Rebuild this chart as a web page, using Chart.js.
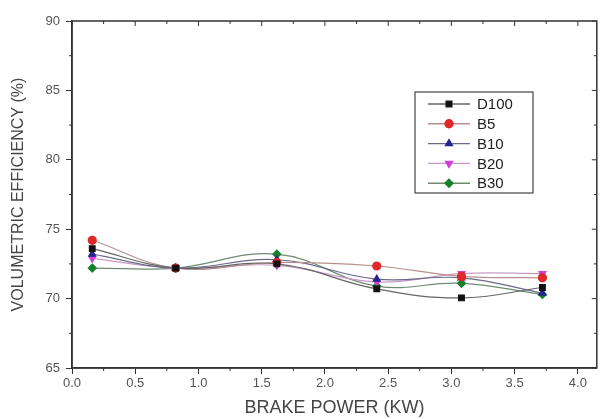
<!DOCTYPE html>
<html>
<head>
<meta charset="utf-8">
<script src="https://cdn.jsdelivr.net/npm/chart.js@4/dist/chart.umd.min.js"></script>
<style>
  html, body { margin: 0; padding: 0; background: #fff; overflow: hidden; }
  #wrap { width: 602px; height: 419px; }
</style>
</head>
<body>
<div id="wrap"><canvas id="chart" width="602" height="419"></canvas></div>
<script>
// ─── Data ────────────────────────────────────────────────────────────────────

const brakePower = [0.16, 0.82, 1.62, 2.41, 3.08, 3.72];
const d100 = [73.6, 72.2, 72.5, 70.7, 70.05, 70.8];
const b5   = [74.2, 72.2, 72.6, 72.35, 71.6, 71.5];
const b10  = [73.2, 72.2, 72.8, 71.4, 71.5, 70.4];
const b20  = [72.9, 72.2, 72.4, 71.2, 71.8, 71.8];
const b30  = [72.2, 72.2, 73.2, 70.9, 71.1, 70.3];

const xTicks = [0, 0.5, 1, 1.5, 2, 2.5, 3, 3.5, 4];
const yTicks = [65, 70, 75, 80, 85, 90];
const xMinor = [0.25, 0.75, 1.25, 1.75, 2.25, 2.75, 3.25, 3.75];
const yMinor = [67.5, 72.5, 77.5, 82.5, 87.5];

const FONT = "'Liberation Sans', Arial, sans-serif";

// ─── Datasets ────────────────────────────────────────────────────────────────

function series(label, values, color, lineColor, pointStyle, rotation = 0) {
  return {
    label,
    data: values.map((v, i) => ({ x: brakePower[i], y: v })),
    borderColor: lineColor,
    borderWidth: 1.2,
    backgroundColor: color,
    pointBackgroundColor: color,
    pointBorderColor: color,
    pointStyle,
    rotation,
    pointRadius: 4,
    tension: 0.4,
  };
}

const datasets = [
  series("D100", d100, "#111111", "#666666", "rect"),
  series("B5", b5, "#e02828", "#b89090", "circle"),
  series("B10", b10, "#25258f", "#6a6a88", "triangle"),
  series("B20", b20, "#d23cd8", "#c89ac8", "triangle", 180),
  series("B30", b30, "#17802a", "#6f8a70", "rectRot"),
];

// ─── Plugins ─────────────────────────────────────────────────────────────────

const frameAndMinor = {
  id: "frameAndMinor",
  afterDraw(chart) {
    const { ctx, chartArea: a, scales } = chart;
    ctx.save();
    ctx.strokeStyle = "#333";
    ctx.lineWidth = 1.5;
    ctx.strokeRect(a.left, a.top, a.right - a.left, a.bottom - a.top);
    ctx.lineWidth = 1;
    ctx.beginPath();
    xMinor.forEach(v => {
      const px = scales.x.getPixelForValue(v);
      ctx.moveTo(px, a.bottom); ctx.lineTo(px, a.bottom + 3);
      ctx.moveTo(px, a.top); ctx.lineTo(px, a.top + 3);
    });
    yMinor.forEach(v => {
      const py = scales.y.getPixelForValue(v);
      ctx.moveTo(a.left, py); ctx.lineTo(a.left - 3, py);
      ctx.moveTo(a.right, py); ctx.lineTo(a.right - 3, py);
    });
    xTicks.forEach(v => {
      const px = scales.x.getPixelForValue(v);
      ctx.moveTo(px, a.top); ctx.lineTo(px, a.top + 5);
    });
    yTicks.forEach(v => {
      const py = scales.y.getPixelForValue(v);
      ctx.moveTo(a.right, py); ctx.lineTo(a.right - 5, py);
    });
    ctx.stroke();
    ctx.restore();
  },
};

const boxLegend = {
  id: "boxLegend",
  afterDraw(chart) {
    const { ctx } = chart;
    const left = 415, top = 92, w = 118, h = 101, row = 19.8;
    ctx.save();
    ctx.strokeStyle = "#444";
    ctx.lineWidth = 1.2;
    ctx.strokeRect(left, top, w, h);
    ctx.font = `15px ${FONT}`;
    ctx.textBaseline = "middle";
    ctx.fillStyle = "#222";
    chart.data.datasets.forEach((ds, i) => {
      const y = top + 12 + i * row;
      ctx.strokeStyle = ds.borderColor;
      ctx.lineWidth = 1.4;
      ctx.beginPath();
      ctx.moveTo(428, y); ctx.lineTo(470, y);
      ctx.stroke();
      ctx.fillStyle = ds.pointBackgroundColor;
      ctx.strokeStyle = ds.pointBorderColor;
      Chart.helpers.drawPoint(ctx, {
        pointStyle: ds.pointStyle, radius: 4, rotation: ds.rotation, borderWidth: 1,
      }, 449, y);
      ctx.fillStyle = "#222";
      ctx.fillText(ds.label, 477, y + 1);
    });
    ctx.restore();
  },
};

// ─── Chart ───────────────────────────────────────────────────────────────────

new Chart(document.getElementById("chart"), {
  type: "line",
  data: { datasets },
  plugins: [frameAndMinor, boxLegend],
  options: {
    responsive: false,
    animation: false,
    layout: { padding: { top: 21, right: 3, left: 0, bottom: 0 } },
    plugins: { legend: { display: false }, tooltip: { enabled: false } },
    scales: {
      x: {
        type: "linear",
        min: 0,
        max: 4.15,
        afterBuildTicks: s => { s.ticks = xTicks.map(v => ({ value: v })); },
        afterFit: s => { s.height = 51; },
        border: { color: "#333", width: 1.5 },
        grid: { drawOnChartArea: false, tickLength: 6, color: "#333" },
        ticks: {
          color: "#555",
          font: { family: FONT, size: 13 },
          padding: 2,
          maxRotation: 0,
          callback: v => v.toFixed(1),
        },
        title: {
          display: true,
          text: "BRAKE POWER (KW)",
          color: "#444",
          font: { family: FONT, size: 18 },
          padding: { top: 0, bottom: 0 },
        },
      },
      y: {
        min: 65,
        max: 90,
        afterBuildTicks: s => { s.ticks = yTicks.map(v => ({ value: v })); },
        afterFit: s => { s.width = 72; },
        border: { color: "#333", width: 1.5 },
        grid: { drawOnChartArea: false, tickLength: 6, color: "#333" },
        ticks: {
          color: "#555",
          font: { family: FONT, size: 13 },
          padding: 6,
        },
        title: {
          display: true,
          text: "VOLUMETRIC EFFICIENCY (%)",
          color: "#444",
          font: { family: FONT, size: 16 },
          padding: { top: 9, bottom: 0 },
        },
      },
    },
  },
});
</script>
</body>
</html>
